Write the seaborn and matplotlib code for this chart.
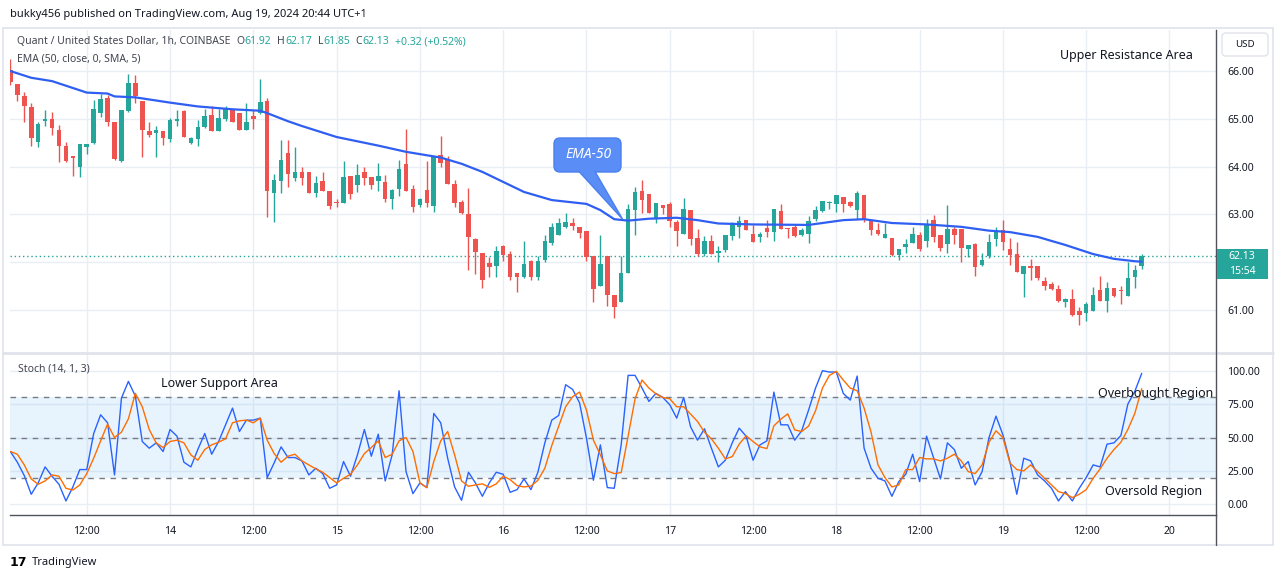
import numpy as np
import matplotlib
matplotlib.use("Agg")
import matplotlib.pyplot as plt
from matplotlib.patches import Rectangle, FancyBboxPatch, Polygon
from matplotlib.lines import Line2D
import seaborn as sns

# ---- data (QNT/USD 1h, Aug 13 01:00 -> Aug 19 20:00) ----
opens = [66.02, 65.72, 65.47, 65.24, 64.52, 64.95, 64.99, 64.76, 64.43, 64.22,
         63.99, 64.42, 64.5, 65.13, 65.44, 64.93, 64.12, 65.16, 65.75, 65.37,
         64.74, 64.7, 64.74, 64.57, 64.95, 65.16, 64.5, 64.57, 64.83, 65.09,
         64.75, 64.99, 65.2, 65.12, 64.76, 65.05, 65.12, 65.37, 63.45, 63.7,
         64.28, 63.76, 63.88, 63.88, 63.45, 63.69, 63.49, 63.26, 63.24, 63.8,
         63.61, 63.88, 63.78, 63.7, 63.68, 63.32, 63.53, 64.05, 63.53, 63.19,
         63.51, 63.17, 64.24, 64.17, 63.63, 63.26, 63.0, 62.49, 62.19, 61.99,
         61.92, 62.33, 62.17, 61.78, 61.7, 62.03, 61.7, 62.05, 62.41, 62.57,
         62.74, 62.81, 62.74, 62.65, 62.12, 61.5, 62.12, 61.32, 61.16, 61.77,
         63.1, 63.48, 63.42, 62.91, 63.19, 63.21, 62.84, 62.6, 63.1, 62.5,
         62.17, 62.44, 62.19, 62.26, 62.55, 62.74, 62.89, 62.59, 62.52, 62.72,
         62.64, 63.07, 62.72, 62.73, 62.57, 62.59, 62.91, 63.07, 63.24, 63.21,
         63.36, 63.25, 63.1, 63.4, 62.89, 62.68, 62.51, 62.5, 62.15, 62.32,
         62.41, 62.57, 62.45, 62.88, 62.57, 62.39, 62.69, 62.69, 62.28, 62.38,
         61.94, 62.12, 62.48, 62.68, 62.28, 62.17, 61.76, 61.92, 61.92, 61.61,
         61.55, 61.43, 61.17, 61.22, 60.98, 60.94, 60.98, 61.41, 61.19, 61.45,
         61.41, 61.29, 61.7, 61.92]
highs = [66.25, 65.74, 65.56, 65.34, 64.93, 65.18, 65.14, 64.88, 64.52, 64.22,
         64.47, 64.48, 65.39, 65.53, 65.5, 64.93, 65.18, 65.93, 65.91, 65.37,
         64.93, 64.85, 64.74, 65.02, 65.18, 65.18, 64.63, 64.97, 65.2, 65.27,
         65.21, 65.27, 65.21, 65.12, 65.34, 65.18, 65.83, 65.44, 63.85, 64.55,
         64.55, 64.41, 64.0, 63.88, 63.8, 63.88, 63.5, 63.33, 64.11, 63.8,
         64.05, 63.99, 63.79, 64.08, 63.82, 63.53, 64.13, 64.79, 63.61, 63.34,
         64.11, 64.22, 64.65, 64.22, 63.72, 63.31, 63.56, 62.51, 62.19, 62.1,
         62.33, 62.37, 62.24, 61.78, 62.44, 62.05, 62.12, 62.57, 62.81, 62.93,
         63.02, 62.93, 62.74, 62.65, 62.12, 62.57, 62.12, 61.32, 62.12, 63.21,
         63.58, 63.72, 63.42, 63.24, 63.19, 63.27, 62.88, 63.35, 63.1, 62.69,
         62.55, 62.57, 62.33, 62.57, 62.85, 62.96, 62.89, 62.78, 62.63, 62.89,
         63.12, 63.21, 62.72, 62.79, 62.72, 62.96, 63.17, 63.29, 63.29, 63.41,
         63.36, 63.28, 63.48, 63.4, 62.89, 62.81, 62.82, 62.5, 62.28, 62.48,
         62.74, 62.63, 62.91, 62.98, 62.57, 63.19, 62.74, 62.69, 62.37, 62.41,
         62.19, 62.59, 62.74, 62.88, 62.5, 62.43, 61.92, 62.07, 61.92, 61.68,
         61.58, 61.53, 61.24, 61.43, 61.06, 61.17, 61.48, 61.72, 61.58, 61.45,
         61.5, 62.01, 61.94, 62.17]
lows = [65.7, 65.37, 64.93, 64.43, 64.41, 64.85, 64.66, 64.1, 64.1, 63.8,
        63.78, 64.27, 64.47, 65.04, 64.85, 64.13, 64.1, 65.14, 65.33, 64.2,
        64.62, 64.2, 64.45, 64.51, 64.85, 64.63, 64.48, 64.43, 64.8, 64.75,
        64.75, 64.95, 64.93, 64.76, 64.76, 64.79, 65.11, 62.95, 62.84, 63.45,
        63.57, 63.7, 63.61, 63.45, 63.37, 63.49, 63.12, 63.16, 63.24, 63.33,
        63.47, 63.61, 63.53, 63.5, 63.26, 63.11, 63.38, 63.49, 63.05, 63.16,
        63.16, 63.06, 64.0, 63.63, 63.15, 63.0, 61.84, 61.76, 61.46, 61.69,
        61.7, 62.03, 61.63, 61.37, 61.67, 61.63, 61.62, 62.0, 62.36, 62.57,
        62.71, 62.67, 62.5, 62.03, 61.16, 61.5, 61.09, 60.84, 61.16, 61.77,
        62.57, 63.03, 63.02, 62.82, 63.0, 62.74, 62.33, 62.6, 62.36, 62.13,
        62.12, 62.17, 62.01, 62.21, 62.47, 62.5, 62.67, 62.43, 62.43, 62.52,
        62.45, 62.69, 62.5, 62.52, 62.55, 62.41, 62.87, 63.06, 63.11, 63.05,
        63.05, 63.16, 62.91, 62.84, 62.57, 62.57, 62.51, 62.12, 62.05, 62.2,
        62.41, 62.23, 62.32, 62.43, 62.23, 62.19, 62.39, 62.01, 62.1, 61.72,
        61.91, 62.08, 62.34, 62.26, 61.94, 61.79, 61.28, 61.63, 61.62, 61.41,
        61.41, 61.17, 61.06, 60.88, 60.69, 60.77, 60.98, 61.19, 60.96, 61.28,
        61.12, 61.29, 61.46, 61.85]
closes = [65.77, 65.5, 65.26, 64.6, 64.89, 64.99, 64.81, 64.43, 64.12, 64.18,
          64.47, 64.47, 65.2, 65.41, 64.93, 64.15, 65.18, 65.75, 65.47, 64.76,
          64.66, 64.76, 64.6, 64.97, 65.0, 64.63, 64.59, 64.84, 65.07, 64.75,
          65.02, 65.23, 64.93, 64.77, 64.93, 64.99, 65.35, 63.49, 63.71, 64.13,
          63.85, 63.88, 63.76, 63.45, 63.66, 63.49, 63.17, 63.24, 63.78, 63.42,
          63.82, 63.76, 63.61, 63.8, 63.32, 63.51, 63.96, 63.49, 63.15, 63.32,
          63.24, 64.22, 64.08, 63.63, 63.24, 63.02, 62.53, 62.22, 61.63, 61.9,
          62.24, 62.15, 61.7, 61.7, 61.97, 61.7, 62.03, 62.44, 62.74, 62.81,
          62.84, 62.75, 62.62, 62.1, 61.44, 61.96, 61.31, 61.06, 61.77, 63.12,
          63.47, 63.31, 63.02, 63.24, 63.14, 62.87, 62.66, 63.12, 62.48, 62.17,
          62.44, 62.17, 62.24, 62.57, 62.78, 62.86, 62.67, 62.43, 62.6, 62.64,
          63.12, 62.69, 62.69, 62.55, 62.67, 62.87, 63.09, 63.29, 63.27, 63.4,
          63.22, 63.17, 63.45, 62.88, 62.68, 62.59, 62.59, 62.15, 62.28, 62.38,
          62.59, 62.28, 62.77, 62.52, 62.3, 62.69, 62.57, 62.3, 62.37, 61.89,
          62.05, 62.42, 62.67, 62.43, 62.15, 61.79, 61.92, 61.87, 61.66, 61.5,
          61.43, 61.19, 61.22, 60.9, 60.9, 61.12, 61.32, 61.19, 61.46, 61.29,
          61.39, 61.67, 61.83, 62.13]

# EMA (50, close, 0, SMA, 5) read at these bars
ema_bar = [0, 3, 6, 11, 14, 15, 18, 23, 27, 32, 36, 37, 40, 42, 47, 53, 57, 62, 65,
           68, 71, 74, 78, 83, 85, 87, 89, 92, 96, 99, 102, 107, 115, 120, 123,
           127, 132, 137, 141, 144, 148, 152, 156, 159, 162, 163]
ema_val = [66.0, 65.86, 65.79, 65.55, 65.53, 65.47, 65.45, 65.34, 65.26, 65.2, 65.17,
           65.12, 64.95, 64.85, 64.62, 64.44, 64.31, 64.19, 64.06, 63.89, 63.68,
           63.47, 63.3, 63.22, 63.09, 62.9, 62.87, 62.91, 62.93, 62.88, 62.81,
           62.79, 62.78, 62.88, 62.9, 62.82, 62.79, 62.74, 62.66, 62.63, 62.53,
           62.36, 62.17, 62.07, 62.02, 62.01]

# Stoch (14, 1, 3)
stoch_k = [39.5, 31.5, 21.5, 7.5, 16, 28, 21, 15, 2.5, 13,
           26, 26, 53, 67, 61, 22, 79.5, 92, 81, 47,
           42, 46, 39.5, 56, 51, 31.5, 28, 41, 53, 37.5,
           47, 59.5, 72, 54.5, 63, 63, 64.5, 20, 31, 43,
           35, 35, 32.5, 22, 27, 23, 12, 14.5, 32, 21,
           37, 56, 36, 52.5, 17.5, 37, 85, 24.5, 8, 16,
           12.5, 68, 61, 34.5, 13, 3, 24, 16, 6, 16,
           24, 22.5, 9, 11, 19, 11, 24, 46, 63, 66.5,
           89.5, 86, 76, 49.5, 18, 44.5, 12.5, 12, 44.5, 96.5,
           96.5, 87, 77, 83, 80, 74.5, 64.5, 80, 58, 48,
           56.5, 42, 28, 33, 46, 57, 51, 33, 44.5, 47.5,
           84, 59.5, 59.5, 48, 55, 70.5, 87, 100, 99, 99,
           83, 78, 96, 42, 27, 19.5, 17.5, 6, 17, 22.5,
           37.5, 17, 51, 35, 19, 46, 41, 27, 32, 14.5,
           24.5, 50, 66, 52, 32, 7.5, 34.5, 32.5, 22, 17.5,
           12, 2.5, 9.5, 2.5, 12, 20, 29.5, 28, 45, 46,
           51.5, 75, 84.5, 98]
stoch_d = [39.5, 37.5, 29.5, 19, 15, 17.5, 22, 21, 12, 10.7,
           14.5, 23, 34.5, 47.5, 60, 50, 54, 64, 83, 73,
           56, 46, 42.5, 47, 48, 46, 37, 33, 41, 44.5,
           46.5, 49, 61, 62.5, 63, 61, 64.5, 48, 38, 31.5,
           36, 37.5, 32.5, 29.5, 26.5, 24, 20, 16, 19.5, 22.5,
           29.5, 38, 42.5, 47.5, 35, 37.5, 47.5, 50, 39.5, 16,
           12.5, 32, 47.5, 54.5, 37, 17.5, 13.5, 14.5, 15.3, 12.7,
           15.3, 21, 18.5, 14, 13, 13.7, 18, 27, 44, 58.5,
           73, 80.5, 84, 70.5, 48, 37, 25, 23, 23.7, 51,
           79, 93, 87, 82.7, 80, 79, 73, 73, 67.5, 62,
           54, 49, 42, 34, 35.7, 45, 51.3, 47, 43, 41.7,
           58.7, 63.7, 67.7, 55.7, 54.5, 58.5, 70, 87, 96.5, 99.5,
           93, 87, 85, 72, 54, 29.5, 20, 13, 14.5, 26,
           26, 35, 34, 34, 32.5, 34.5, 37.5, 32.5, 24.5, 23,
           29.5, 46.5, 55, 50, 31, 26, 25, 29.5, 24.5, 19.5,
           14.5, 9.5, 8, 5, 7.5, 11, 19.5, 26.5, 34.5, 41,
           46.5, 56, 68, 86.5]

time_tick_bars = [11, 23, 35, 47, 59, 71, 83, 95, 107, 119, 131, 143, 155, 167]
time_tick_labels = ["12:00", "14", "12:00", "15", "12:00", "16", "12:00", "17",
                    "12:00", "18", "12:00", "19", "12:00", "20"]
price_ticks = [61, 62, 63, 64, 65, 66]
price_tick_labels = ["61.00", "", "63.00", "64.00", "65.00", "66.00"]
stoch_ticks = [0, 25, 50, 75, 100]
stoch_tick_labels = ["0.00", "25.00", "50.00", "75.00", "100.00"]
last_price = 62.13
callout_bar, callout_price = 88.2, 62.9

# ---- style ----
sns.set_theme(style="white")
plt.rcParams['font.family'] = ['Noto Sans', 'DejaVu Sans']

UP, DOWN = '#26a69a', '#ef5350'
GRID = '#e9eef5'
TXT = '#131722'
GREY = '#434651'
AXLINE = '#50535e'
CALLOUT, CALLOUT_EDGE = '#5b8df6', '#4a80ee'

W, H = 1281, 579
fig = plt.figure(figsize=(W / 100, H / 100), dpi=100)
fig.patch.set_facecolor('white')


def fx(px):
    return px / W


def fy(py):
    return 1 - py / H


left, right = 9.5, 1216
ax1 = fig.add_axes([fx(left), fy(352), fx(right) - fx(left), fy(30) - fy(352)])
ax2 = fig.add_axes([fx(left), fy(515), fx(right) - fx(left), fy(354) - fy(515)])

bars = np.arange(len(closes))
o, h, l, c = map(np.array, (opens, highs, lows, closes))
col = np.where(c >= o, UP, DOWN)

# ---- price panel ----
for y in price_ticks:
    ax1.axhline(y, color=GRID, lw=1, zorder=0)
for x in time_tick_bars:
    ax1.axvline(x, color=GRID, lw=1, zorder=0)
ax1.vlines(bars, l, h, colors=col, lw=1, zorder=2)
ax1.bar(bars, np.maximum(np.abs(c - o), 0.02), bottom=np.minimum(o, c), width=0.66,
        color=col, linewidth=0, zorder=3)
sns.lineplot(x=ema_bar, y=ema_val, ax=ax1, color='#2f5ef2', linewidth=1.6, zorder=4)
ax1.axhline(last_price, color=UP, lw=1, ls=(0, (1, 2)), zorder=1)

ax1.set_xlim(-0.13, 173.7)
ax1.set_ylim(60.12, 66.86)
ax1.set_xticks(time_tick_bars)
ax1.set_xticklabels([])
ax1.set_yticks(price_ticks)
ax1.set_yticklabels(price_tick_labels)
ax1.yaxis.tick_right()
ax1.tick_params(axis='y', length=0, pad=8, labelsize=7.5, labelcolor=TXT)
ax1.tick_params(axis='x', length=0)
ax1.set_xlabel('')
ax1.set_ylabel('')
for s in ['top', 'left', 'bottom']:
    ax1.spines[s].set_visible(False)
ax1.spines['right'].set_color(AXLINE)
ax1.spines['right'].set_linewidth(1)

fig.text(fx(1126), fy(55), "Upper Resistance Area", fontsize=9, color=TXT,
         ha='center', va='center')

# EMA-50 callout: rounded box with a pointer onto the EMA line
tip = ax1.transData.transform((callout_bar, callout_price))
bx0, by0, bw, bh = 554, H - 172, 67, 34
fig.add_artist(FancyBboxPatch((bx0, by0), bw, bh, boxstyle='round,pad=0,rounding_size=6',
                              transform=None, fc=CALLOUT, ec=CALLOUT_EDGE, lw=1, zorder=6))
fig.add_artist(Polygon([(579, by0 + 0.5), (595, by0 + 0.5), tuple(tip)], closed=True,
                       transform=None, fc=CALLOUT, ec=CALLOUT_EDGE, lw=1, zorder=6))
fig.add_artist(Polygon([(580, by0 + 2), (594, by0 + 2), (594.5, by0 - 1), (580.5, by0 - 1)],
                       closed=True, transform=None, fc=CALLOUT, ec='none', zorder=7))
fig.text(fx(588), fy(155), "EMA-50", color='white', fontsize=10, style='italic',
         ha='center', va='center', zorder=8)

# ---- stoch panel ----
for y in stoch_ticks:
    ax2.axhline(y, color=GRID, lw=1, zorder=0)
for x in time_tick_bars:
    ax2.axvline(x, color=GRID, lw=1, zorder=0)
ax2.axhspan(20, 80, color='#2196f3', alpha=0.1, lw=0, zorder=0)
for lvl in (80, 50, 20):
    ax2.axhline(lvl, color='#787b86', lw=1, ls=(0, (4, 4)), zorder=1)
sns.lineplot(x=bars, y=stoch_k, ax=ax2, color='#2962ff', linewidth=1, zorder=3)
sns.lineplot(x=bars, y=stoch_d, ax=ax2, color='#ff6d00', linewidth=1, zorder=4)
ax2.set_xlim(-0.13, 173.7)
ax2.set_ylim(-8.0, 112.5)
ax2.set_xticks(time_tick_bars)
ax2.set_xticklabels(time_tick_labels)
ax2.set_yticks(stoch_ticks)
ax2.set_yticklabels(stoch_tick_labels)
ax2.yaxis.tick_right()
ax2.tick_params(axis='y', length=0, pad=8, labelsize=7.5, labelcolor=TXT)
ax2.tick_params(axis='x', length=0, pad=8, labelsize=7.5, labelcolor=TXT)
ax2.set_xlabel('')
ax2.set_ylabel('')
for s in ['top', 'left']:
    ax2.spines[s].set_visible(False)
for s in ['right', 'bottom']:
    ax2.spines[s].set_color(AXLINE)
    ax2.spines[s].set_linewidth(1)

fig.text(fx(18), fy(369), "Stoch (14, 1, 3)", fontsize=7.5, color=GREY, va='center')
fig.text(fx(219), fy(384), "Lower Support Area", fontsize=9, color=TXT, ha='center', va='center')
fig.text(fx(1156), fy(394), "Overbought Region", fontsize=9, color=TXT, ha='center', va='center')
fig.text(fx(1154), fy(491), "Oversold Region", fontsize=9, color=TXT, ha='center', va='center')

# ---- frame and chrome ----
fig.add_artist(Rectangle((fx(3), fy(545)), fx(1273) - fx(3), fy(28) - fy(545),
                         transform=fig.transFigure, fc='none', ec='#e0e3eb', lw=1.2))
fig.add_artist(Line2D([fx(3), fx(1273)], [fy(353), fy(353)], transform=fig.transFigure,
                      color='#e0e3eb', lw=2))
fig.add_artist(Line2D([fx(right), fx(right)], [fy(545), fy(515)], transform=fig.transFigure,
                      color=AXLINE, lw=1))
fig.add_artist(Line2D([fx(right), fx(right)], [fy(354), fy(352)], transform=fig.transFigure,
                      color=AXLINE, lw=1))

fig.text(fx(10), fy(14), "bukky456 published on TradingView.com, Aug 19, 2024 20:44 UTC+1",
         fontsize=8, color=TXT, va='center')

renderer = fig.canvas.get_renderer()


def text_run(x_px, y_px, pieces, size):
    x = x_px
    for s, color, gap in pieces:
        t = fig.text(fx(x), fy(y_px), s, color=color, fontsize=size, va='center', ha='left')
        x += t.get_window_extent(renderer).width + gap


text_run(17, 42, [("Quant / United States Dollar, 1h, COINBASE", GREY, 6),
                  ("O", GREY, 0), ("61.92", UP, 6),
                  ("H", GREY, 0), ("62.17", UP, 6),
                  ("L", GREY, 0), ("61.85", UP, 6),
                  ("C", GREY, 0), ("62.13", UP, 6),
                  ("+0.32 (+0.52%)", UP, 0)], 7.5)
fig.text(fx(17), fy(59), "EMA (50, close, 0, SMA, 5)", fontsize=7.5, color=GREY, va='center')

# USD button
fig.add_artist(FancyBboxPatch((1222, H - 56), 46, 23, boxstyle='round,pad=0,rounding_size=4',
                              transform=None, fc='white', ec='#e0e3eb', lw=1))
fig.text(fx(1245), fy(44.5), "USD", fontsize=7, color=TXT, ha='center', va='center')

# last price label
fig.add_artist(Rectangle((fx(1217), fy(279)), fx(1268) - fx(1217), fy(249) - fy(279),
                         transform=fig.transFigure, fc=UP, ec='none'))
fig.text(fx(1242), fy(257), f"{last_price:.2f}", fontsize=7.5, color='white',
         fontweight='bold', ha='center', va='center')
fig.text(fx(1242), fy(271), "15:54", fontsize=7.5, color='white',
         fontweight='bold', ha='center', va='center')

# TradingView mark
fig.text(fx(10), fy(562), "17", fontsize=9, color='black', fontweight='heavy',
         va='center', family='DejaVu Sans')
fig.text(fx(32), fy(562), "TradingView", fontsize=8, color=TXT, va='center')

fig.savefig("out.png", dpi=100)
